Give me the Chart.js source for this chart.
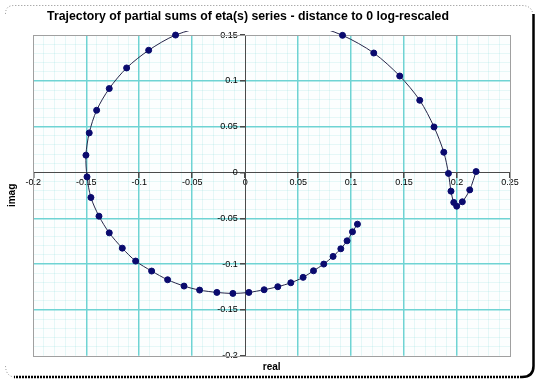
<!DOCTYPE html>
<html>
<head>
<meta charset="utf-8">
<script src="https://cdn.jsdelivr.net/npm/chart.js@4"></script>
<style>
  html, body { margin: 0; padding: 0; background: #ffffff; }
  #wrap { width: 540px; height: 383px; }
</style>
</head>
<body>
<div id="wrap"><canvas id="c" width="540" height="383"></canvas></div>
<script>
// Trajectory points (real part, imaginary part), in order
const realPart = [0.218, 0.212, 0.205, 0.1997, 0.1969, 0.1943, 0.1919, 0.1875, 0.1783, 0.1648,
  0.1459, 0.1214, 0.0919, 0.058, 0.026, -0.004, -0.033, -0.0657, -0.0911, -0.1119,
  -0.1283, -0.1402, -0.1472, -0.1503, -0.1493, -0.1456, -0.138, -0.1283, -0.116, -0.1034,
  -0.0883, -0.0732, -0.0577, -0.0430, -0.0267, -0.0116, 0.0035, 0.0179, 0.0308, 0.0431,
  0.0547, 0.0645, 0.0742, 0.0830, 0.0903, 0.0962, 0.1013, 0.1060];
const imagPart = [0.001, -0.019, -0.032, -0.0368, -0.0327, -0.0204, -0.001, 0.0221, 0.0497, 0.0788,
  0.1053, 0.1304, 0.1497, 0.163, 0.171, 0.169, 0.161, 0.150, 0.1334, 0.1141,
  0.0916, 0.0679, 0.0432, 0.0189, -0.0048, -0.0273, -0.0477, -0.0659, -0.0826, -0.0967,
  -0.1076, -0.1171, -0.124, -0.1284, -0.1309, -0.132, -0.1309, -0.128, -0.1247, -0.1204,
  -0.1145, -0.1073, -0.1000, -0.0916, -0.0833, -0.0746, -0.0648, -0.0564];

const xRange = [-0.2, 0.25];
const yRange = [-0.2, 0.15];
const majorStep = 0.05;
const minorStep = 0.01;

const titleText = 'Trajectory of partial sums of eta(s) series - distance to 0 log-rescaled';
const xTitle = 'real';
const yTitle = 'imag';

const points = realPart.map((r, i) => ({ x: r, y: imagPart[i] }));

const FONT = "'Liberation Sans', Arial, sans-serif";
const CYAN = '#6fd3d3';
const MINOR = 'rgba(111,211,211,0.16)';
const AXIS = '#4a4a4a';

function isMajor(v) {
  const q = v / majorStep;
  return Math.abs(q - Math.round(q)) < 1e-6;
}
function gridColor(ctx, range) {
  const v = ctx.tick ? ctx.tick.value : 0;
  if (Math.abs(v) < 1e-9) return 'rgba(0,0,0,0)';
  if (Math.abs(v - range[0]) < 1e-9 || Math.abs(v - range[1]) < 1e-9) return 'rgba(0,0,0,0)';
  return isMajor(v) ? CYAN : MINOR;
}
function tickColor(ctx) {
  const v = ctx.tick ? ctx.tick.value : 0;
  return isMajor(v) ? AXIS : 'rgba(0,0,0,0)';
}
function fmt(v) {
  return isMajor(v) ? parseFloat(v.toFixed(2)).toString() : '';
}
// y labels sit to the left of the centred axis with a small gap
function fmtY(v) {
  const s = fmt(v);
  return s ? s + '   ' : '';
}

const framePlugin = {
  id: 'frame',
  beforeDraw(chart) {
    const c = chart.ctx;
    c.save();
    c.fillStyle = '#ffffff';
    c.fillRect(0, 0, chart.width, chart.height);
    c.strokeStyle = '#8a8a8a';
    c.lineWidth = 1;
    c.setLineDash([1, 2]);
    c.beginPath();
    c.moveTo(5.5, 14);
    c.quadraticCurveTo(5.5, 5.5, 14, 5.5);
    c.lineTo(522, 5.5);
    c.quadraticCurveTo(532, 5.5, 533, 15);
    c.stroke();
    c.beginPath();
    c.moveTo(5.5, 366);
    c.quadraticCurveTo(6, 376, 14, 377);
    c.stroke();
    c.setLineDash([]);
    c.strokeStyle = '#000000';
    c.lineWidth = 2.5;
    c.beginPath();
    c.moveTo(533.5, 14);
    c.lineTo(533.5, 366);
    c.quadraticCurveTo(533.5, 377, 522, 377);
    c.stroke();
    c.setLineDash([2, 1]);
    c.beginPath();
    c.moveTo(522, 377);
    c.lineTo(14, 377);
    c.stroke();
    c.setLineDash([]);
    const a = chart.chartArea;
    c.fillStyle = '#fcfefe';
    c.fillRect(a.left, a.top, a.right - a.left, a.bottom - a.top);
    c.restore();
  },
  beforeDatasetsDraw(chart) {
    const c = chart.ctx;
    const a = chart.chartArea;
    c.save();
    c.strokeStyle = '#a0a0a0';
    c.lineWidth = 1;
    c.strokeRect(Math.round(a.left) + 0.5, Math.round(a.top) + 0.5,
      Math.round(a.right - a.left), Math.round(a.bottom - a.top));
    c.restore();
  }
};

new Chart(document.getElementById('c'), {
  type: 'scatter',
  data: {
    datasets: [{
      data: points,
      showLine: true,
      borderColor: '#26264a',
      borderWidth: 1,
      tension: 0.3,
      pointRadius: 3,
      pointHoverRadius: 3,
      pointBackgroundColor: '#0a0a6e',
      pointBorderColor: '#0a0a6e',
      pointBorderWidth: 1,
      clip: 4,
      xAxisID: 'x',
      yAxisID: 'y'
    }]
  },
  options: {
    responsive: false,
    animation: false,
    events: [],
    layout: { padding: { left: -14, right: 30, top: 0, bottom: 4 } },
    plugins: {
      legend: { display: false },
      tooltip: { enabled: false },
      title: {
        display: true,
        text: titleText,
        color: '#000000',
        font: { family: FONT, size: 12.3, weight: 'bold', lineHeight: 1.2 },
        padding: { top: 9, bottom: 11.3 }
      }
    },
    scales: {
      x: {
        type: 'linear',
        min: xRange[0],
        max: xRange[1],
        position: { y: 0 },
        ticks: {
          stepSize: minorStep,
          autoSkip: false,
          maxRotation: 0,
          padding: 0,
          color: '#000000',
          font: { family: FONT, size: 9 },
          callback: (v) => fmt(v)
        },
        grid: {
          color: (ctx) => gridColor(ctx, xRange),
          tickColor: tickColor,
          tickLength: 5,
          lineWidth: (ctx) => (ctx.tick && isMajor(ctx.tick.value) ? 1.5 : 1)
        },
        border: { color: AXIS, width: 1 }
      },
      y: {
        type: 'linear',
        min: yRange[0],
        max: yRange[1],
        position: { x: 0 },
        ticks: {
          stepSize: minorStep,
          autoSkip: false,
          padding: 2,
          color: '#000000',
          font: { family: FONT, size: 9 },
          callback: (v) => fmtY(v)
        },
        grid: {
          color: (ctx) => gridColor(ctx, yRange),
          tickColor: tickColor,
          tickLength: 5,
          lineWidth: (ctx) => (ctx.tick && isMajor(ctx.tick.value) ? 1.5 : 1)
        },
        border: { color: AXIS, width: 1 }
      },
      xt: {
        type: 'linear',
        axis: 'x',
        position: 'bottom',
        min: xRange[0],
        max: xRange[1],
        ticks: { display: false },
        grid: { display: false, drawTicks: false },
        border: { display: false },
        title: {
          display: true,
          text: xTitle,
          color: '#000000',
          font: { family: FONT, size: 10, weight: 'bold', lineHeight: 1.2 },
          padding: { top: 5.3, bottom: 6 }
        }
      },
      yt: {
        type: 'linear',
        axis: 'y',
        position: 'left',
        min: yRange[0],
        max: yRange[1],
        ticks: { display: false },
        grid: { display: false, drawTicks: false },
        border: { display: false },
        title: {
          display: true,
          text: yTitle,
          color: '#000000',
          font: { family: FONT, size: 10, weight: 'bold', lineHeight: 1.2 },
          padding: { top: 20, bottom: 15.3 }
        }
      }
    }
  },
  plugins: [framePlugin]
});
</script>
</body>
</html>
